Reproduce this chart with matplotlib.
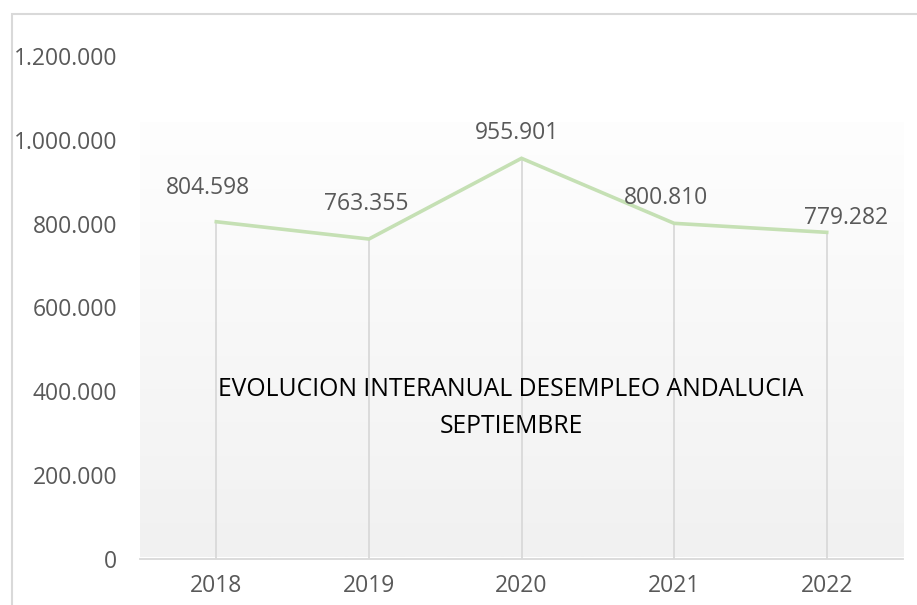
import matplotlib.pyplot as plt
import numpy as np
from matplotlib.patches import Rectangle

# Datos
years = ['2018', '2019', '2020', '2021', '2022']
parados = [804598, 763355, 955901, 800810, 779282]
etiquetas = ['804.598', '763.355', '955.901', '800.810', '779.282']
yticks = [0, 200000, 400000, 600000, 800000, 1000000, 1200000]
ytick_labels = ['0', '200.000', '400.000', '600.000', '800.000', '1.000.000', '1.200.000']

W, H = 917, 605
fig = plt.figure(figsize=(W / 100, H / 100), dpi=100)
fig.patch.set_facecolor('white')

# marco exterior
fig.patches.append(Rectangle((12 / W, -0.1), 1.2, (H - 14) / H + 0.1, transform=fig.transFigure,
                             fill=False, edgecolor='#d9d9d9', linewidth=1.5))

# fondo degradado del area de grafico
bg = fig.add_axes([140 / W, (H - 557) / H, 763 / W, (557 - 122) / H], zorder=0)
grad = np.linspace(0, 1, 256).reshape(-1, 1)
bg.imshow(grad, aspect='auto', cmap=plt.matplotlib.colors.LinearSegmentedColormap.from_list(
    'g', ['#fefefe', '#f1f1f1']), extent=[0, 1, 0, 1], origin='upper')
bg.axis('off')

ax = fig.add_axes([140 / W, (H - 559) / H, 763 / W, (559 - 56) / H], zorder=1)
ax.patch.set_alpha(0)
x = np.arange(len(years))

# lineas de caida
ax.vlines(x, 0, parados, color='#d9d9d9', linewidth=1.3, zorder=1)
ax.plot(x, parados, color='#c5e0b4', linewidth=2.6, solid_joinstyle='miter', zorder=2)

# posicion de las etiquetas (movidas a mano en el original)
offsets = [(-6, 15.8), (-2, 16.6), (-3, 9.4), (-6, 9.4), (14, 1.6)]
for xi, v, lab, (dx, dy) in zip(x, parados, etiquetas, offsets):
    ax.annotate(lab, (xi, v), xytext=(dx, dy), textcoords='offset points',
                ha='center', va='bottom', fontsize=16.5, color='#595959', family='Open Sans')

ax.set_xlim(-0.5, len(years) - 0.5)
ax.set_ylim(0, 1200000)
ax.set_xticks(x)
ax.set_xticklabels(years, fontsize=16.5, color='#595959', family='Open Sans')
ax.set_yticks(yticks)
ax.set_yticklabels(ytick_labels, fontsize=16.5, color='#595959', family='Open Sans')
ax.tick_params(length=0)
ax.tick_params(axis='x', pad=11)
ax.tick_params(axis='y', pad=16.5)
ax.spines[['top', 'left', 'right']].set_visible(False)
ax.spines['bottom'].set_color('#d9d9d9')
ax.spines['bottom'].set_linewidth(1.3)

fig.text(511 / W, 1 - 408 / H, 'EVOLUCION INTERANUAL DESEMPLEO ANDALUCIA\nSEPTIEMBRE',
         ha='center', va='center', fontsize=17.8, color='black', family='Open Sans',
         linespacing=1.65, zorder=3)

fig.savefig('out.png', dpi=100)
